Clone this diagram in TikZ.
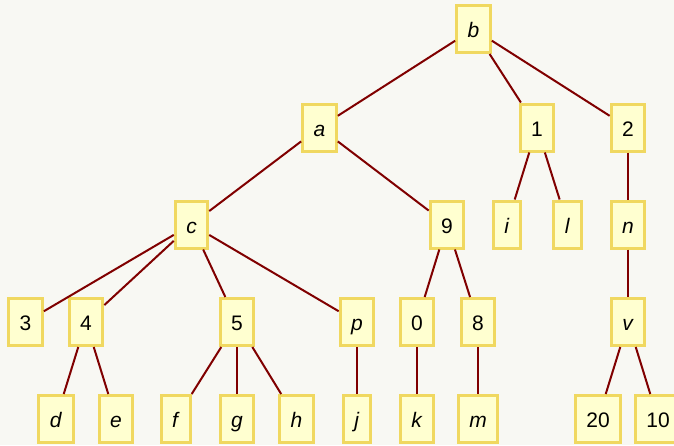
\documentclass[tikz,border=0pt]{standalone}
\usepackage{fontspec}
\setmainfont{Liberation Sans}
\definecolor{bgc}{RGB}{248,248,243}
\definecolor{nodefill}{RGB}{255,255,208}
\definecolor{nodedraw}{RGB}{240,216,96}
\definecolor{edgec}{RGB}{128,0,0}
\begin{document}
\begin{tikzpicture}[x=1pt,y=-1pt,
  tn/.style={draw=nodedraw,fill=nodefill,line width=3pt,inner xsep=11pt,inner ysep=0pt,
    minimum height=47pt,text height=19pt,text depth=2pt,font=\fontsize{21}{24}\selectfont,text=black},
  ed/.style={draw=edgec,line width=2pt}]
\useasboundingbox (0,0) rectangle (674,445);
\fill[bgc] (0,0) rectangle (674,445);
% nodes
\node[tn] (b) at (473.5,29) {\textit{b}};
\node[tn] (a) at (319.5,127.5) {\textit{a}};
\node[tn] (n1) at (537,127.5) {1};
\node[tn] (n2) at (628,127.5) {2};
\node[tn] (c) at (191.5,224.5) {\textit{c}};
\node[tn] (n9) at (447,224.5) {9};
\node[tn] (i) at (507,224.5) {\textit{i}};
\node[tn] (l) at (567.5,224.5) {\textit{l}};
\node[tn] (n) at (628,224.5) {\textit{n}};
\node[tn] (n3) at (25.5,322) {3};
\node[tn] (n4) at (86,322) {4};
\node[tn] (n5) at (237,322) {5};
\node[tn] (p) at (357,322) {\textit{p}};
\node[tn] (n0) at (417,322) {0};
\node[tn] (n8) at (478,322) {8};
\node[tn] (v) at (628,322) {\textit{v}};
\node[tn] (d) at (56,419) {\textit{d}};
\node[tn] (e) at (116,419) {\textit{e}};
\node[tn] (f) at (176,419) {\textit{f}};
\node[tn] (g) at (237,419) {\textit{g}};
\node[tn] (h) at (296.5,419) {\textit{h}};
\node[tn] (j) at (357,419) {\textit{j}};
\node[tn] (k) at (417,419) {\textit{k}};
\node[tn] (m) at (478,419) {\textit{m}};
\node[tn] (n20) at (598,419) {20};
\node[tn] (n10) at (658,419) {10};
% edges
\foreach \s/\t in {b/a,b/n1,b/n2,a/c,a/n9,n1/i,n1/l,n2/n,c/n3,c/n4,c/n5,c/p,n9/n0,n9/n8,n/v,
  n4/d,n4/e,n5/f,n5/g,n5/h,p/j,n0/k,n8/m,v/n20,v/n10}
  \draw[ed] (\s) -- (\t);
\end{tikzpicture}
\end{document}
